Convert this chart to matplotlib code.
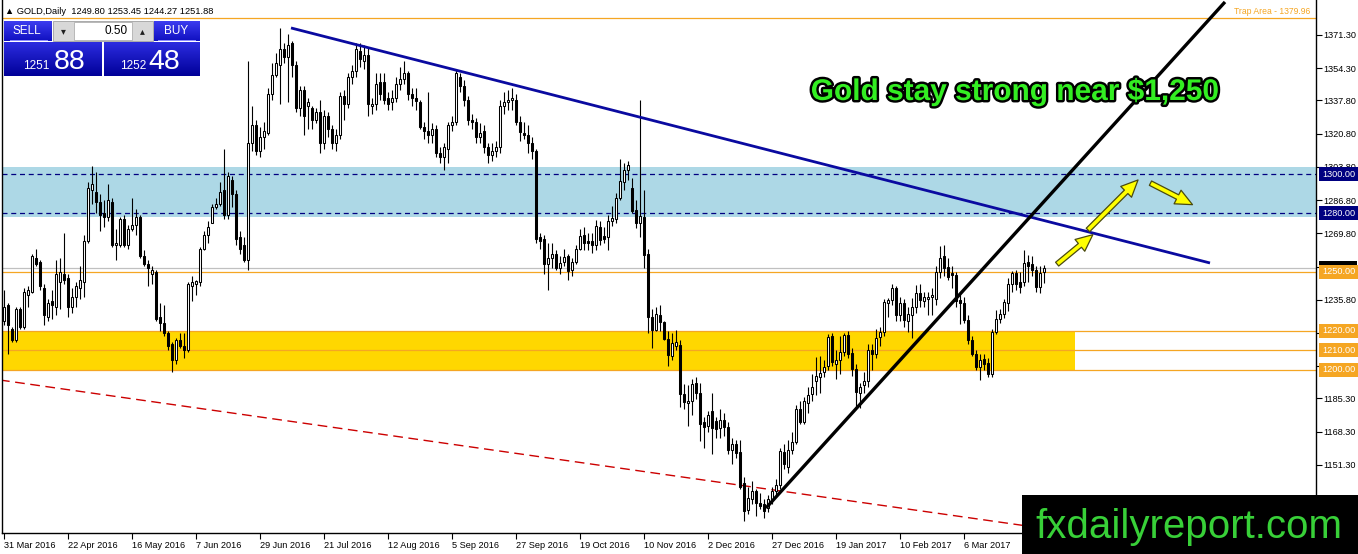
import numpy as np
import matplotlib
matplotlib.use("Agg")
import matplotlib.pyplot as plt
from matplotlib.patches import Rectangle, FancyArrowPatch
from matplotlib.colors import LinearSegmentedColormap
import matplotlib.patheffects as pe

plt.rcParams['font.family'] = ['Liberation Sans', 'DejaVu Sans']

# --- GOLD daily candles, 31 Mar 2016 .. 3 Apr 2017 (one bar per trading day) ---
opens = [1225, 1233, 1221, 1215, 1231, 1222, 1238, 1240, 1257, 1255,
         1242, 1227, 1235, 1232, 1245, 1249, 1247, 1232, 1237, 1242,
         1245, 1266, 1292, 1291, 1286, 1280, 1278, 1286, 1264, 1264,
         1277, 1264, 1272, 1274, 1278, 1258, 1254, 1249, 1250, 1227,
         1224, 1219, 1213, 1205, 1215, 1212, 1210, 1243, 1244, 1245,
         1262, 1269, 1275, 1283, 1285, 1292, 1279, 1297, 1290, 1268,
         1264, 1256, 1316, 1325, 1312, 1319, 1321, 1341, 1351, 1356,
         1364, 1360, 1367, 1356, 1334, 1343, 1335, 1334, 1328, 1332,
         1316, 1330, 1323, 1316, 1320, 1340, 1336, 1350, 1353, 1363,
         1358, 1361, 1335, 1336, 1347, 1347, 1339, 1337, 1339, 1346,
         1349, 1352, 1341, 1339, 1337, 1324, 1322, 1320, 1323, 1311,
         1309, 1313, 1325, 1327, 1350, 1345, 1338, 1328, 1327, 1319,
         1322, 1314, 1310, 1312, 1314, 1335, 1337, 1338, 1338, 1327,
         1321, 1320, 1316, 1312, 1268, 1267, 1254, 1257, 1259, 1252,
         1255, 1258, 1251, 1255, 1261.6, 1269, 1266, 1266, 1264, 1273,
         1268.5, 1268, 1275.9, 1277, 1287.9, 1296, 1302, 1293, 1281.9, 1275,
         1278, 1259, 1227, 1220.5, 1228, 1224.4, 1215.9, 1207, 1212, 1212.5,
         1187.6, 1183, 1184.2, 1193, 1188, 1173, 1171, 1179, 1173.9, 1170,
         1174, 1170.5, 1159, 1162, 1158, 1142, 1128, 1134, 1138, 1132,
         1131, 1129, 1133.6, 1138, 1141, 1158, 1150, 1159, 1163, 1180,
         1173, 1183, 1187.6, 1194, 1196, 1199, 1202, 1217, 1203, 1205,
         1209, 1217.6, 1208.6, 1200.4, 1188, 1192, 1194.4, 1210, 1208, 1216.7,
         1219.3, 1234, 1235.6, 1241.6, 1228, 1234, 1225, 1228, 1232, 1239,
         1235, 1236, 1237, 1236, 1250, 1258, 1252.7, 1249.5, 1248.3, 1235.5,
         1234, 1225.3, 1215, 1208.2, 1201.3, 1205.6, 1203.5, 1198, 1219.3, 1226,
         1228.7, 1234, 1244, 1249.3, 1245, 1245, 1255, 1254, 1251, 1242.4,
         1249.8]
highs = [1241, 1234, 1222, 1232, 1232, 1242, 1243, 1259, 1262, 1256,
         1244, 1236, 1241, 1256, 1257, 1270, 1249, 1242, 1245, 1253,
         1269, 1296, 1304, 1301, 1290, 1287, 1295, 1288, 1272, 1278,
         1279, 1274, 1288, 1282, 1279, 1261, 1256, 1253, 1251, 1234,
         1233, 1220, 1214, 1216, 1219, 1219, 1245, 1248, 1246, 1263,
         1271, 1276, 1285, 1288, 1296, 1313, 1301, 1299, 1292, 1271,
         1268, 1358, 1335, 1328, 1324, 1327, 1344, 1357, 1362, 1375,
         1367, 1372, 1368, 1358, 1345, 1345, 1339, 1335, 1334, 1338,
         1333, 1332, 1325, 1323, 1342, 1343, 1352, 1356, 1367, 1367,
         1366, 1365, 1339, 1352, 1352, 1352, 1342, 1343, 1350, 1355,
         1358, 1353, 1344, 1344, 1338, 1327, 1342, 1326, 1325, 1314,
         1316, 1327, 1330, 1354, 1352, 1348, 1340, 1331, 1329, 1326,
         1325, 1316, 1316, 1317, 1338, 1342, 1343, 1344, 1341, 1330,
         1327, 1325, 1319, 1313, 1270, 1269, 1265, 1265, 1261, 1258,
         1262, 1259, 1257, 1264, 1272, 1273, 1270, 1270, 1276.5, 1276,
         1273, 1279, 1283.6, 1290.4, 1307.9, 1305.8, 1306.7, 1298, 1287, 1338,
         1292, 1262, 1231, 1232, 1233, 1225, 1220, 1219, 1220.2, 1215,
         1192.7, 1192, 1195, 1196, 1193, 1176, 1179, 1188, 1176, 1180,
         1178, 1173, 1165, 1164, 1164, 1145, 1140, 1143, 1139, 1137,
         1134, 1136, 1140, 1144, 1160, 1162, 1164, 1168, 1182, 1184,
         1186, 1191, 1198, 1206.4, 1207, 1205, 1218.5, 1219, 1210, 1217,
         1219, 1220, 1211, 1203, 1193, 1199, 1213, 1213, 1221, 1222,
         1236, 1236.5, 1244, 1243, 1237, 1236, 1232, 1236.5, 1243.5, 1244,
         1240, 1240, 1242, 1253, 1263.5, 1263.8, 1257, 1253, 1250, 1240,
         1237, 1228, 1217, 1210, 1208, 1208, 1206, 1221, 1230.5, 1231,
         1236, 1247, 1250.5, 1251, 1250, 1261, 1258.5, 1258, 1253, 1253,
         1253.45]
lows = [1223, 1208, 1214, 1214, 1221, 1221, 1232, 1239, 1253, 1241,
        1223, 1225, 1226, 1228, 1231, 1244, 1227, 1229, 1232, 1236,
        1237, 1265, 1285, 1280, 1271, 1273, 1276, 1263, 1256, 1263,
        1263, 1262, 1271, 1269, 1257, 1253, 1243, 1244, 1225, 1220,
        1217, 1210, 1199, 1203, 1211, 1206, 1209, 1235, 1238, 1243,
        1261, 1265, 1275, 1282, 1284, 1277, 1277, 1283, 1264, 1259,
        1255, 1251, 1312, 1310, 1309, 1313, 1320, 1338, 1350, 1336,
        1357, 1337, 1350, 1332, 1330, 1320, 1323, 1323, 1326, 1311,
        1313, 1319, 1313, 1312, 1318, 1328, 1334, 1346, 1350, 1355,
        1354, 1330, 1331, 1333, 1338, 1336, 1333, 1333, 1337, 1343,
        1346, 1338, 1335, 1333, 1323, 1318, 1316, 1316, 1309, 1306,
        1302, 1306, 1322, 1325, 1342, 1335, 1325, 1323, 1316, 1316,
        1311, 1306, 1307, 1309, 1311, 1331, 1333, 1333, 1325, 1317,
        1318, 1311, 1308, 1265, 1262, 1249, 1241, 1252, 1251, 1249,
        1253, 1246, 1248, 1254, 1261, 1261, 1261, 1259.6, 1261, 1263.9,
        1264.7, 1261.3, 1273.3, 1275, 1287, 1292, 1297, 1280, 1272.4, 1268,
        1252, 1219, 1211.2, 1220, 1220, 1215, 1202, 1204.7, 1210, 1181,
        1179.9, 1171, 1177, 1185, 1163.6, 1160, 1168, 1157, 1165, 1165,
        1166, 1157, 1151.6, 1155, 1139, 1122.5, 1126, 1131, 1125, 1128.5,
        1124, 1127, 1131, 1135, 1139, 1149, 1147, 1157, 1162, 1172,
        1172, 1178, 1184, 1187, 1188, 1196, 1200, 1202, 1195, 1198,
        1207, 1206, 1197, 1180.7, 1180.5, 1188, 1191, 1200, 1206, 1212,
        1217, 1227, 1233, 1225, 1225, 1222, 1219.5, 1216, 1229, 1232,
        1232, 1228, 1228, 1233, 1247, 1248, 1246, 1242, 1232, 1223.6,
        1224, 1213, 1207, 1199.6, 1194.5, 1200, 1196, 1196, 1218, 1224,
        1226.5, 1230, 1240, 1241, 1239, 1243, 1245, 1248, 1240, 1239,
        1244.27]
closes = [1232, 1223, 1215, 1231, 1222, 1240, 1241, 1258, 1254, 1243,
          1228, 1234, 1233, 1249, 1250, 1246, 1232, 1237, 1243, 1246,
          1266, 1293, 1295, 1286, 1279, 1278, 1287, 1264, 1265, 1277,
          1264, 1272, 1274, 1278, 1258, 1254, 1252, 1251, 1226, 1224,
          1219, 1212, 1205, 1215, 1212, 1210, 1244, 1245, 1245.5, 1262,
          1269, 1273, 1283, 1285, 1291, 1279, 1299, 1290, 1267, 1262,
          1256, 1316, 1325, 1312, 1319, 1322, 1341, 1351, 1357, 1364,
          1360, 1366, 1356, 1334, 1343, 1330, 1337, 1328, 1332, 1316,
          1330, 1323, 1316, 1320, 1340, 1336, 1350, 1353, 1364, 1359,
          1361, 1336, 1336, 1346, 1341, 1338, 1336, 1339, 1346, 1349,
          1352, 1341, 1339, 1337.5, 1324, 1322, 1320, 1323, 1311, 1309,
          1314, 1325, 1327, 1352, 1345, 1338, 1328, 1327, 1319, 1321,
          1314, 1310, 1312, 1314, 1335, 1337, 1338, 1339, 1327, 1321.5,
          1320, 1316, 1312, 1267, 1266, 1254, 1257, 1259, 1252, 1254.6,
          1257.5, 1250.7, 1255.3, 1261.6, 1268.5, 1264.7, 1265, 1263.9, 1273.6, 1266.4,
          1266.8, 1275.9, 1277.6, 1287.9, 1296.4, 1302.1, 1304.5, 1281, 1275, 1278.7,
          1258.7, 1227, 1220.5, 1228.4, 1224.4, 1215.9, 1207.3, 1213.6, 1214, 1187.6,
          1183.3, 1184, 1192.7, 1188, 1172, 1170.5, 1177, 1170, 1169.6, 1174,
          1170.5, 1159, 1162, 1157.6, 1140, 1127.6, 1134.5, 1138, 1132, 1130.2,
          1127.6, 1133.6, 1138, 1141, 1158.5, 1151.5, 1159, 1163, 1180, 1173,
          1184, 1187, 1191, 1197, 1198.5, 1201.5, 1216.7, 1204, 1205, 1209,
          1217.6, 1208.2, 1200.4, 1188.5, 1191, 1194.4, 1209.9, 1208, 1216, 1219.3,
          1234.7, 1235.6, 1241.6, 1228, 1234, 1225.3, 1228.7, 1232, 1239, 1235.6,
          1237.3, 1237, 1238, 1250, 1257, 1252, 1247.6, 1248.3, 1235, 1234,
          1225.3, 1215, 1208.2, 1201.3, 1204.7, 1203, 1197.9, 1219.3, 1226, 1228.7,
          1234.7, 1244, 1249.3, 1244, 1242.4, 1254.4, 1253, 1251, 1242.4, 1249.3,
          1251.88]

# date labels every 16 bars
date_labels = ['31 Mar 2016', '22 Apr 2016', '16 May 2016', '7 Jun 2016',
               '29 Jun 2016', '21 Jul 2016', '12 Aug 2016', '5 Sep 2016',
               '27 Sep 2016', '19 Oct 2016', '10 Nov 2016', '2 Dec 2016',
               '27 Dec 2016', '19 Jan 2017', '10 Feb 2017', '6 Mar 2017']
label_step = 16

price_ticks = [1371.30, 1354.30, 1337.80, 1320.80, 1303.80, 1286.80, 1269.80,
               1252.80, 1235.80, 1218.80, 1201.80, 1185.30, 1168.30, 1151.30, 1134.30]

# horizontal levels drawn on the chart
trap_level = 1379.96
bid_price = 1251.88
orange_levels = [1250.0, 1220.0, 1210.0, 1200.0]
blue_levels = [1300.0, 1280.0]
blue_zone = (1278.3, 1303.7)
gold_zone = (1200.0, 1220.0)
gold_zone_end = 267.75          # bar index where the yellow box stops

# trend lines (bar index, price)
blue_line_x, blue_line_y = [71.75, 301.5], [1374.9, 1254.6]
black_line_x, black_line_y = [190.5, 305.25], [1129.2, 1388.2]
red_line_x, red_line_y = [-1.0, 254.0], [1194.7, 1120.5]

# yellow arrows (start, end) in (bar index, price)
arrows = [((262.75, 1253.1), (272.75, 1270.0)),
          ((270.5, 1270.5), (284.0, 1298.1)),
          ((286.0, 1296.1), (297.75, 1283.8))]

W, H = 1358, 554


def px_rect(fig, x, y, w, h, **kw):
    # rectangle in figure pixels, measured from the top-left corner
    r = Rectangle((x / W, 1 - (y + h) / H), w / W, h / H,
                  transform=fig.transFigure, **kw)
    fig.add_artist(r)
    return r


def px_text(fig, x, y, s, **kw):
    return fig.text(x / W, 1 - y / H, s, **kw)


def gradient_box(fig, x, y, w, h, top, bottom):
    gax = fig.add_axes([x / W, 1 - (y + h) / H, w / W, h / H])
    grad = np.linspace(0, 1, 64).reshape(-1, 1)
    cmap = LinearSegmentedColormap.from_list('g', [top, bottom])
    gax.imshow(grad, aspect='auto', cmap=cmap, extent=[0, 1, 0, 1], origin='upper')
    gax.set_axis_off()
    return gax


def draw_candles(ax):
    o = np.array(opens, dtype=float)
    h = np.array(highs, dtype=float)
    l = np.array(lows, dtype=float)
    c = np.array(closes, dtype=float)
    idx = np.arange(len(c))
    up = c >= o

    ax.vlines(idx, l, h, color='black', linewidth=0.8, zorder=3)
    body = np.maximum(np.abs(c - o), 0.5)
    bottom = np.minimum(o, c)
    ax.bar(idx[up], body[up], bottom=bottom[up], width=0.68,
           facecolor='white', edgecolor='black', linewidth=0.75, zorder=4)
    ax.bar(idx[~up], body[~up], bottom=bottom[~up], width=0.68,
           facecolor='black', edgecolor='black', linewidth=0.75, zorder=4)


def price_tag(ax, price, text, bg, z=10):
    ax.text(1.0045, price, text, transform=ax.get_yaxis_transform(),
            ha='left', va='center', fontsize=6.6, color='white', zorder=z,
            clip_on=False,
            bbox=dict(boxstyle='square,pad=0.28', fc=bg, ec='none'))


def draw_panel(fig):
    # header line
    px_text(fig, 5, 11, '\u25B2 GOLD,Daily  1249.80 1253.45 1244.27 1251.88',
            fontsize=6.7, color='black', va='center', ha='left')

    # one-click trading panel
    gradient_box(fig, 4, 21, 47, 20, '#3c3cf0', '#1010c0')
    gradient_box(fig, 154, 21, 46, 20, '#3c3cf0', '#1010c0')
    gradient_box(fig, 4, 42, 98, 34, '#2c2ce0', '#000098')
    gradient_box(fig, 104, 42, 96, 34, '#2c2ce0', '#000098')
    px_rect(fig, 10, 40, 38, 1, facecolor='#8c8cff', edgecolor='none', zorder=2)
    px_rect(fig, 158, 40, 38, 1, facecolor='#8c8cff', edgecolor='none', zorder=2)

    px_rect(fig, 53, 21, 100, 20, facecolor='#d8d8d8', edgecolor='#a0a0a0', lw=0.6, zorder=2)
    px_rect(fig, 74, 22, 58, 18, facecolor='white', edgecolor='#b0b0b0', lw=0.6, zorder=2)
    px_text(fig, 63, 31, '\u25BE', fontsize=7, color='#202020', ha='center', va='center', zorder=3)
    px_text(fig, 142, 31, '\u25B4', fontsize=7, color='#202020', ha='center', va='center', zorder=3)
    px_text(fig, 128, 31, '0.50', fontsize=8.5, color='black', ha='right', va='center', zorder=3)

    px_text(fig, 27, 31, 'SELL', fontsize=8.5, color='white', ha='center', va='center', zorder=3)
    px_text(fig, 176, 31, 'BUY', fontsize=8.5, color='white', ha='center', va='center', zorder=3)

    px_text(fig, 23, 69, '1251', fontsize=8.5, color='white', ha='left', va='baseline', zorder=3)
    px_text(fig, 54, 69, '88', fontsize=20.5, color='white', ha='left', va='baseline', zorder=3)
    px_text(fig, 120, 69, '1252', fontsize=8.5, color='white', ha='left', va='baseline', zorder=3)
    px_text(fig, 148, 69, '48', fontsize=20.5, color='white', ha='left', va='baseline', zorder=3)


def main():
    fig = plt.figure(figsize=(W / 100, H / 100), dpi=100)
    ax = fig.add_axes([2 / W, 21 / H, 1314 / W, 533 / H])
    ax.set_xlim(-0.5, 328.0)
    ax.set_ylim(1116.4, 1389.2)

    # --- zones and horizontal levels ---
    ax.axhspan(blue_zone[0], blue_zone[1], color='#add8e6', zorder=0.5, lw=0)
    ax.add_patch(Rectangle((-0.5, gold_zone[0]), gold_zone_end + 0.5,
                           gold_zone[1] - gold_zone[0], facecolor='#ffd700',
                           edgecolor='none', zorder=0.6))
    for lvl in blue_levels:
        ax.axhline(lvl, color='#000080', lw=0.9, ls=(0, (4, 3)), zorder=1)
    ax.axhline(bid_price, color='#c0c0c0', lw=0.9, zorder=1)
    for lvl in orange_levels:
        ax.axhline(lvl, color='#f5a623', lw=0.9, zorder=1)
    ax.axhline(trap_level, color='#f5a623', lw=0.9, zorder=1)
    ax.text(0.996, trap_level + 1.2, 'Trap Area - 1379.96', transform=ax.get_yaxis_transform(),
            ha='right', va='bottom', fontsize=6.2, color='#f5a623', zorder=6)

    # --- candles ---
    draw_candles(ax)

    # --- trend lines ---
    red_slope = (red_line_y[1] - red_line_y[0]) / (red_line_x[1] - red_line_x[0])
    ax.plot(red_line_x + [275.0], red_line_y + [red_line_y[0] + (275.0 - red_line_x[0]) * red_slope],
            color='#cc0000', lw=1.0, ls=(0, (7, 4)), zorder=2)
    ax.plot(blue_line_x, blue_line_y, color='#0a0aa0', lw=2.0, zorder=5,
            solid_capstyle='butt')
    ax.plot(black_line_x, black_line_y, color='black', lw=2.4, zorder=5,
            solid_capstyle='butt')

    for start, end in arrows:
        arr = FancyArrowPatch(start, end, arrowstyle='simple,head_length=1.1,head_width=1.0,tail_width=0.32',
                              mutation_scale=11, facecolor='#ffff00', edgecolor='#4a4a10',
                              lw=0.9, zorder=7)
        ax.add_patch(arr)

    # --- axes styling ---
    for side in ['left', 'right', 'bottom']:
        ax.spines[side].set_color('black')
        ax.spines[side].set_linewidth(1.0)
    ax.spines['top'].set_visible(False)

    ax.yaxis.tick_right()
    ax.set_yticks(price_ticks)
    ax.set_yticklabels([f'{p:.2f}' for p in price_ticks])
    ax.tick_params(axis='y', which='both', left=False, right=True, labelleft=False,
                   labelright=True, length=4, width=0.8, pad=1.5, labelsize=6.6)

    xt = [i * label_step for i in range(len(date_labels))]
    ax.set_xticks(xt)
    ax.set_xticklabels(date_labels, ha='left')
    ax.tick_params(axis='x', length=4, width=0.8, pad=2, labelsize=6.6)

    # price tags on the right scale
    price_tag(ax, bid_price, '1251.88', 'black', z=10)
    price_tag(ax, 1250.0, '1250.00', '#f5a623', z=11)
    price_tag(ax, 1220.0, '1220.00', '#f5a623', z=11)
    price_tag(ax, 1210.0, '1210.00', '#f5a623', z=11)
    price_tag(ax, 1200.0, '1200.00', '#f5a623', z=11)
    price_tag(ax, 1300.0, '1300.00', '#000080', z=11)
    price_tag(ax, 1280.0, '1280.00', '#000080', z=11)

    # headline text
    px_text(fig, 1015, 92, 'Gold stay strong near $1,250', fontsize=21.5,
            fontweight='bold', color='#33ee22', ha='center', va='center', zorder=5,
            path_effects=[pe.withStroke(linewidth=3.5, foreground='black')])

    draw_panel(fig)

    # site logo in the lower right corner
    px_rect(fig, 1022, 495, 336, 59, facecolor='black', edgecolor='none', zorder=4)
    px_text(fig, 1035, 538, 'fxdailyreport.com', fontsize=29, color='#38d038',
            ha='left', va='baseline', zorder=5)

    fig.savefig('out.png', dpi=100)


if __name__ == "__main__":
    main()
